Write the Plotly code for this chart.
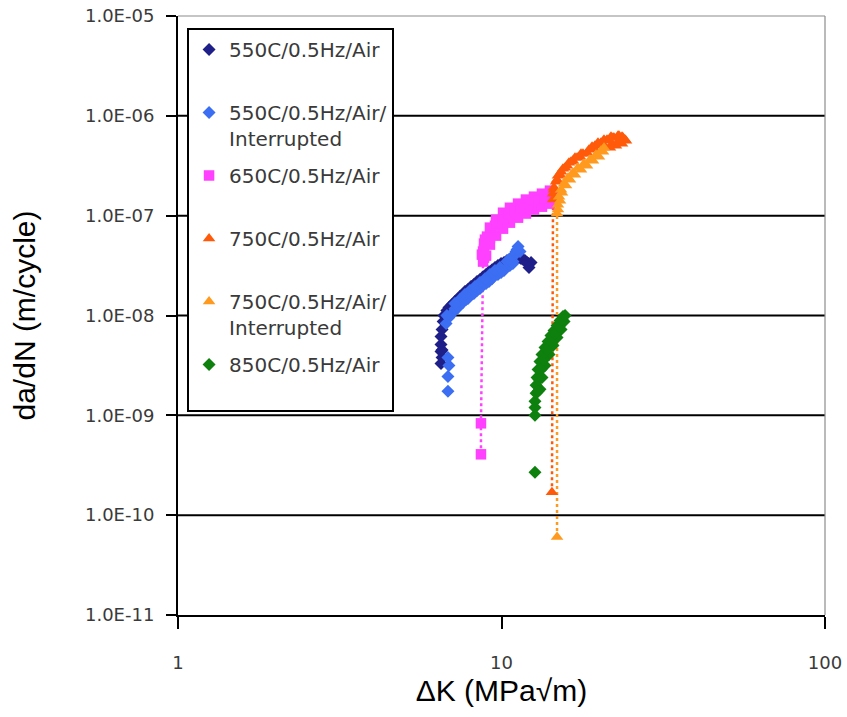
import plotly.graph_objects as go

# Fatigue crack growth rate da/dN versus stress intensity range, by test temperature.

# 550C / 0.5 Hz / Air
k_550 = [6.50, 6.50, 6.50, 6.50, 6.55, 6.60, 6.64, 6.78, 7.03, 7.34, 7.60, 7.88, 8.22, 8.58, 8.96,
         9.35, 9.75, 10.18, 10.62, 11.09, 11.49, 11.82, 12.08, 12.34, 6.55, 6.55,
         6.88, 7.18, 7.44, 7.71, 8.05, 8.40, 8.77, 9.15, 9.55, 9.97, 10.40, 10.85, 11.33,
         11.66, 11.99, 12.16]
r_550 = [3.31e-9, 4.37e-9, 5.13e-9, 6.17e-9, 7.24e-9, 8.71e-9, 1.00e-8, 1.12e-8, 1.29e-8, 1.48e-8,
         1.62e-8, 1.82e-8, 2.04e-8, 2.29e-8, 2.57e-8, 2.88e-8, 3.16e-8, 3.39e-8, 3.63e-8, 3.80e-8,
         3.72e-8, 3.55e-8, 3.31e-8, 3.39e-8, 3.80e-9, 4.50e-9,
         1.20e-8, 1.38e-8, 1.55e-8, 1.74e-8, 1.95e-8, 2.19e-8, 2.45e-8, 2.75e-8, 3.02e-8,
         3.31e-8, 3.55e-8, 3.72e-8, 3.80e-8, 3.63e-8, 3.39e-8, 3.02e-8]

# 550C / 0.5 Hz / Air / Interrupted
k_550i = [6.83, 6.83, 6.88, 6.83, 6.74, 6.88, 7.08, 7.34, 7.60, 7.88, 8.22, 8.58, 8.96, 9.35,
          9.75, 10.18, 10.62, 7.44, 7.99, 8.58, 9.21, 9.89, 10.40, 10.78, 11.09, 11.25, 11.01,
          11.41, 10.85,
          7.18, 7.77, 8.40, 9.15, 9.97, 10.85, 11.17, 10.55, 9.55, 8.89, 8.28, 7.71, 7.18, 6.78]
r_550i = [1.74e-9, 2.45e-9, 3.16e-9, 3.80e-9, 8.32e-9, 9.55e-9, 1.07e-8, 1.20e-8, 1.35e-8,
          1.48e-8, 1.66e-8, 1.86e-8, 2.09e-8, 2.34e-8, 2.57e-8, 2.82e-8, 3.16e-8, 1.45e-8,
          1.78e-8, 2.14e-8, 2.57e-8, 3.02e-8, 3.47e-8, 3.89e-8, 4.37e-8, 4.90e-8, 4.07e-8,
          4.37e-8, 3.47e-8,
          1.17e-8, 1.45e-8, 1.78e-8, 2.19e-8, 2.69e-8, 3.31e-8, 4.57e-8, 3.63e-8, 2.82e-8,
          2.34e-8, 1.95e-8, 1.62e-8, 1.32e-8, 1.00e-8]

# 650C / 0.5 Hz / Air
k_650 = [8.64, 8.64, 8.77, 8.77, 8.83, 9.02, 9.28, 9.55, 9.89, 10.32, 10.78, 11.25, 11.74,
         12.25, 12.79, 13.34, 13.93, 14.43,
         8.89, 9.21, 9.62, 10.11, 10.62, 11.25, 11.90, 12.60, 13.34, 14.12,
         8.96, 9.21, 9.62, 10.11, 10.62, 11.25, 11.90, 12.60, 13.34, 14.12,
         8.70, 8.83, 8.83, 9.21, 9.68, 10.11, 10.55, 11.01, 11.49, 11.99, 12.52, 13.06, 13.63]
r_650 = [4.07e-10, 8.32e-10, 3.47e-8, 4.37e-8, 5.25e-8, 6.17e-8, 7.08e-8, 7.94e-8, 8.71e-8,
         9.77e-8, 1.07e-7, 1.17e-7, 1.26e-7, 1.32e-7, 1.38e-7, 1.45e-7, 1.51e-7, 1.58e-7,
         5.75e-8, 7.59e-8, 9.12e-8, 1.07e-7, 1.20e-7, 1.32e-7, 1.45e-7, 1.55e-7, 1.66e-7, 1.78e-7,
         3.98e-8, 5.13e-8, 6.31e-8, 7.41e-8, 8.51e-8, 9.55e-8, 1.05e-7, 1.15e-7, 1.23e-7, 1.32e-7,
         4.07e-8, 4.57e-8, 3.80e-8, 6.03e-8, 8.32e-8, 9.12e-8, 1.02e-7, 1.12e-7, 1.23e-7,
         1.29e-7, 1.35e-7, 1.41e-7, 1.48e-7]

# 750C / 0.5 Hz / Air
k_750 = [14.32, 14.43, 14.43, 14.53, 14.74, 15.17, 15.72, 16.40, 17.12, 17.86, 18.64, 19.45,
         20.30, 21.19, 22.12, 22.92, 23.58, 24.09,
         14.53, 14.85, 15.28, 15.94, 16.63, 17.49, 18.38, 19.32, 20.30, 21.34, 22.27, 23.08,
         23.75, 24.26, 20.89, 21.96, 22.92,
         21.64, 22.59, 23.58, 14.95, 15.49, 16.16, 16.87, 17.61, 19.05, 19.87, 20.74, 21.80]
r_750 = [1.70e-10, 1.45e-7, 1.66e-7, 1.82e-7, 2.19e-7, 2.57e-7, 3.02e-7, 3.47e-7, 3.80e-7,
         4.17e-7, 4.57e-7, 5.01e-7, 5.37e-7, 5.75e-7, 6.03e-7, 6.31e-7, 6.17e-7, 5.75e-7,
         1.91e-7, 2.29e-7, 2.75e-7, 3.16e-7, 3.55e-7, 3.89e-7, 4.27e-7, 4.68e-7, 5.13e-7,
         5.62e-7, 6.03e-7, 6.31e-7, 6.03e-7, 5.62e-7, 4.90e-7, 5.25e-7, 5.50e-7,
         4.79e-7, 5.01e-7, 5.25e-7, 2.51e-7, 2.95e-7, 3.39e-7, 3.80e-7, 4.17e-7, 4.90e-7,
         5.37e-7, 5.75e-7, 6.17e-7]

# 750C / 0.5 Hz / Air / Interrupted
k_750i = [14.85, 14.85, 14.95, 15.06, 15.28, 15.61, 16.05, 16.63, 17.24, 17.99, 18.77, 19.59,
          20.30, 20.74,
          14.95, 15.17, 15.38, 15.83, 16.28, 16.87, 17.61, 18.38, 19.18, 20.01, 20.60]
r_750i = [6.03e-11, 1.05e-7, 1.29e-7, 1.55e-7, 1.82e-7, 2.09e-7, 2.40e-7, 2.69e-7, 3.02e-7,
          3.31e-7, 3.63e-7, 4.07e-7, 4.47e-7, 4.79e-7,
          1.15e-7, 1.41e-7, 1.70e-7, 2.00e-7, 2.29e-7, 2.57e-7, 2.88e-7, 3.16e-7, 3.55e-7,
          3.89e-7, 4.37e-7]

# 850C / 0.5 Hz / Air
k_850 = [12.69, 12.69, 12.69, 12.79, 12.79, 12.88, 12.97, 13.15, 13.34, 13.63, 13.93, 14.22,
         14.53, 14.85, 15.17, 15.49,
         13.15, 13.34, 13.63, 14.03, 14.43, 14.85, 15.28, 15.61,
         12.69, 12.97, 13.06, 13.25, 13.53, 13.83, 14.22, 14.64, 15.06, 15.38, 15.72]
r_850 = [2.69e-10, 1.00e-9, 1.38e-9, 1.66e-9, 2.00e-9, 2.40e-9, 2.88e-9, 3.47e-9, 4.07e-9,
         4.79e-9, 5.50e-9, 6.31e-9, 7.08e-9, 7.94e-9, 8.91e-9, 9.77e-9,
         1.82e-9, 2.40e-9, 3.16e-9, 4.07e-9, 5.01e-9, 6.03e-9, 7.24e-9, 8.71e-9,
         1.20e-9, 1.74e-9, 2.29e-9, 2.88e-9, 3.63e-9, 4.57e-9, 5.50e-9, 6.61e-9, 7.76e-9,
         9.12e-9, 1.00e-8]

x_ticks = [1, 10, 100]
y_exponents = [-11, -10, -9, -8, -7, -6, -5]

TICK_FONT = dict(family="DejaVu Sans", size=18, color="#3a3a3a")
TITLE_FONT = dict(family="Liberation Sans, Arial", size=30, color="#000000")

series = [
    ("550C/0.5Hz/Air<br> ", k_550, r_550, "#1f1f8a", "diamond", 10),
    ("550C/0.5Hz/Air/<br>Interrupted", k_550i, r_550i, "#3b6ef2", "diamond", 10),
    ("650C/0.5Hz/Air<br> ", k_650, r_650, "#ff40ff", "square", 10.5),
    ("750C/0.5Hz/Air<br> ", k_750, r_750, "#ff5a0a", "triangle-up", 11),
    ("750C/0.5Hz/Air/<br>Interrupted", k_750i, r_750i, "#ff9a1e", "triangle-up", 11),
    ("850C/0.5Hz/Air<br> ", k_850, r_850, "#0d800d", "diamond", 10),
]

fig = go.Figure()

# dotted connectors from the first (low-rate) readings up to the start of each curve
connectors = [
    (k_650[:3], r_650[:3], "#ff40ff"),
    (k_750[:2], r_750[:2], "#ff5a0a"),
    (k_750i[:2], r_750i[:2], "#ff9a1e"),
]
for kx, ry, col in connectors:
    fig.add_trace(go.Scatter(x=kx, y=ry, mode="lines", showlegend=False, hoverinfo="skip",
                             line=dict(color=col, width=2.5, dash="dot")))

for i, (name, kx, ry, col, sym, size) in enumerate(series):
    fig.add_trace(go.Scatter(
        x=kx, y=ry, mode="markers", name=name, legendgroup=f"g{i}",
        marker=dict(symbol=sym, size=size, color=col, line=dict(width=0)),
    ))

# horizontal gridlines at the inner decades
for e in y_exponents[1:-1]:
    fig.add_shape(type="line", xref="paper", x0=0, x1=1, yref="y", y0=10.0 ** e, y1=10.0 ** e,
                  line=dict(color="#000000", width=2), layer="below")
# grey top and right borders of the plot area
fig.add_shape(type="line", xref="paper", yref="paper", x0=0, x1=1, y0=1, y1=1,
              line=dict(color="#8c8c8c", width=1.2))
fig.add_shape(type="line", xref="paper", yref="paper", x0=1, x1=1, y0=0, y1=1,
              line=dict(color="#8c8c8c", width=1.2))

fig.update_xaxes(
    type="log", range=[0, 2], tickvals=x_ticks, ticktext=[str(v) for v in x_ticks],
    showgrid=False, zeroline=False, showline=True, linecolor="#000000", linewidth=2,
    ticks="outside", ticklen=12, tickwidth=2, tickcolor="#000000", tickfont=TICK_FONT,
    ticklabelstandoff=18, automargin=False,
    title=dict(text="ΔK (MPa√m)", font=TITLE_FONT, standoff=8),
)
fig.update_yaxes(
    type="log", range=[-11, -5], tickvals=[10.0 ** e for e in y_exponents],
    ticktext=[f"1.0E-{-e:02d}" for e in y_exponents],
    showgrid=False, zeroline=False, showline=True, linecolor="#000000", linewidth=2,
    ticks="outside", ticklen=10, tickwidth=2, tickcolor="#000000", tickfont=TICK_FONT,
    ticklabelstandoff=8, automargin=False,
    title=dict(text="da/dN (m/cycle)", font=TITLE_FONT, standoff=40),
)

fig.update_layout(
    width=847, height=717,
    margin=dict(l=178, r=22, t=16, b=102, autoexpand=False),
    paper_bgcolor="#ffffff", plot_bgcolor="#ffffff",
    showlegend=True,
    legend=dict(
        x=0.014, y=0.98, xanchor="left", yanchor="top",
        bgcolor="#ffffff", bordercolor="#000000", borderwidth=2,
        font=dict(family="DejaVu Sans", size=20, color="#3a3a3a"),
        valign="top", tracegroupgap=8, itemsizing="trace",
    ),
)

fig.write_html("out.html")
